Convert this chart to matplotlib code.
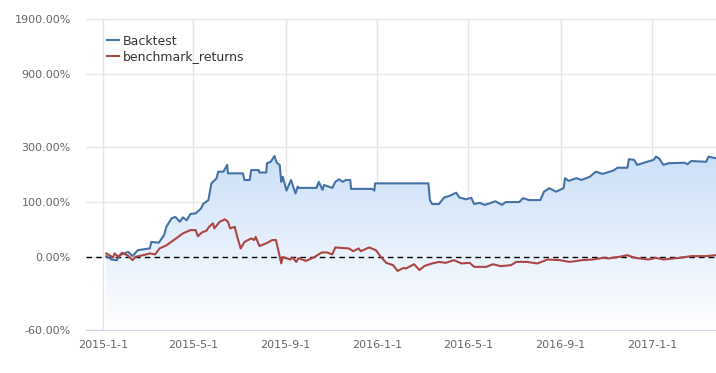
import numpy as np
import pandas as pd
import matplotlib
matplotlib.use('Agg')
import matplotlib.pyplot as plt
import matplotlib.dates as mdates
from matplotlib.ticker import FixedLocator, FixedFormatter, NullLocator

# strategy cumulative returns (%)
bt_dates = ['2015-01-05', '2015-01-12', '2015-01-19', '2015-01-23', '2015-02-03', '2015-02-09',
            '2015-02-16', '2015-03-04', '2015-03-06', '2015-03-16', '2015-03-23', '2015-03-26',
            '2015-04-02', '2015-04-07', '2015-04-13', '2015-04-17', '2015-04-22', '2015-04-27',
            '2015-05-04', '2015-05-11', '2015-05-14', '2015-05-21', '2015-05-25', '2015-06-01',
            '2015-06-03', '2015-06-10', '2015-06-15', '2015-06-16', '2015-07-06', '2015-07-08',
            '2015-07-15', '2015-07-17', '2015-07-27', '2015-07-28', '2015-08-06', '2015-08-07',
            '2015-08-12', '2015-08-17', '2015-08-20', '2015-08-24', '2015-08-26', '2015-08-28',
            '2015-09-02', '2015-09-08', '2015-09-14', '2015-09-17', '2015-09-18', '2015-10-12',
            '2015-10-15', '2015-10-20', '2015-10-22', '2015-11-02', '2015-11-06', '2015-11-11',
            '2015-11-16', '2015-11-20', '2015-11-26', '2015-11-27', '2015-12-25', '2015-12-28',
            '2015-12-29', '2016-03-09', '2016-03-11', '2016-03-14', '2016-03-23', '2016-03-30',
            '2016-04-06', '2016-04-15', '2016-04-19', '2016-04-28', '2016-05-05', '2016-05-09',
            '2016-05-16', '2016-05-23', '2016-05-30', '2016-06-06', '2016-06-15', '2016-06-20',
            '2016-07-08', '2016-07-13', '2016-07-21', '2016-08-05', '2016-08-10', '2016-08-17',
            '2016-08-26', '2016-09-05', '2016-09-07', '2016-09-12', '2016-09-22', '2016-09-29',
            '2016-10-10', '2016-10-18', '2016-10-27', '2016-11-10', '2016-11-16', '2016-11-29',
            '2016-12-01', '2016-12-08', '2016-12-12', '2016-12-21', '2017-01-03', '2017-01-06',
            '2017-01-10', '2017-01-16', '2017-01-23', '2017-02-13', '2017-02-17', '2017-02-22',
            '2017-03-14', '2017-03-17', '2017-03-27']
bt_returns = [1.3, -2.9, -3.7, 2.5, 6.9, 1.3,
              9.2, 11.6, 21, 20, 32, 46.5,
              63, 66, 56, 65, 59, 72,
              73.5, 84, 95, 105, 153, 170,
              193, 193, 219, 187, 187, 164,
              164, 199, 199, 190, 190, 226,
              232, 257, 228, 219, 158, 175,
              131, 164, 123, 143, 139, 139,
              158, 133, 148, 139, 158, 166,
              158, 164, 164, 136, 136, 131,
              153, 153, 105, 95, 95, 112,
              116, 125, 112, 107, 111, 95,
              98, 93, 97, 102, 93, 100,
              100, 110, 105, 105, 128, 138,
              128, 138, 170, 161, 170, 164,
              175, 193, 185, 197, 208, 208,
              243, 240, 219, 228, 240, 254,
              247, 219, 226, 228, 222, 235,
              232, 254, 247]

# benchmark cumulative returns (%)
bm_dates = ['2015-01-05', '2015-01-09', '2015-01-14', '2015-01-16', '2015-01-21', '2015-01-26',
            '2015-02-02', '2015-02-09', '2015-02-13', '2015-02-23', '2015-03-04', '2015-03-11',
            '2015-03-17', '2015-03-26', '2015-04-08', '2015-04-17', '2015-04-27', '2015-05-04',
            '2015-05-07', '2015-05-11', '2015-05-14', '2015-05-18', '2015-05-22', '2015-05-27',
            '2015-05-29', '2015-06-05', '2015-06-12', '2015-06-16', '2015-06-19', '2015-06-25',
            '2015-06-29', '2015-07-03', '2015-07-08', '2015-07-17', '2015-07-21', '2015-07-23',
            '2015-07-28', '2015-08-06', '2015-08-14', '2015-08-19', '2015-08-26', '2015-08-28',
            '2015-09-07', '2015-09-10', '2015-09-15', '2015-09-18', '2015-09-28', '2015-10-09',
            '2015-10-19', '2015-10-26', '2015-11-02', '2015-11-06', '2015-11-24', '2015-11-30',
            '2015-12-07', '2015-12-10', '2015-12-21', '2015-12-30', '2016-01-06', '2016-01-13',
            '2016-01-22', '2016-01-28', '2016-02-05', '2016-02-08', '2016-02-19', '2016-02-26',
            '2016-03-04', '2016-03-14', '2016-03-23', '2016-04-01', '2016-04-12', '2016-04-22',
            '2016-05-03', '2016-05-09', '2016-05-25', '2016-06-03', '2016-06-13', '2016-06-27',
            '2016-07-04', '2016-07-18', '2016-08-01', '2016-08-15', '2016-08-31', '2016-09-13',
            '2016-09-30', '2016-10-14', '2016-10-28', '2016-11-04', '2016-11-18', '2016-11-29',
            '2016-12-09', '2016-12-27', '2017-01-06', '2017-01-16', '2017-02-06', '2017-02-22',
            '2017-03-14', '2017-03-27']
bm_returns = [4.8, 2.5, -0.4, 4.8, 0.4, 5.6,
              2.5, -3.7, 0.4, 2.5, 4.8, 3.5,
              11.6, 16, 26.6, 34.8, 40.5, 40.5,
              30, 35, 37.5, 39, 46.5, 53,
              43.6, 56, 61, 56, 43.6, 46.5,
              26.6, 11.6, 21, 26.6, 24, 29,
              15, 19, 24, 24, -7.6, 0,
              -2.9, -0.4, -5.8, -1.3, -4.6, 0,
              6.1, 6.1, 3.5, 13, 11.6, 7.8,
              11.6, 7.8, 13, 9.2, 0, -6.9,
              -9.6, -15.9, -12.6, -13.3, -8.5, -15,
              -10.4, -7.6, -5.8, -6.9, -3.7, -7.6,
              -6.9, -11.5, -11.5, -8.5, -10.7, -9.6,
              -5.8, -5.8, -7.6, -2.9, -3.7, -5.8,
              -3.7, -2.9, -0.9, -1.6, 0.4, 2.5,
              -0.9, -2.9, -0.9, -2.9, -0.9, 1.3,
              1.3, 2.5]

y_ticks = [-60, 0, 100, 300, 900, 1900]
y_labels = ['-60.00%', '0.00%', '100.00%', '300.00%', '900.00%', '1900.00%']
x_ticks = ['2015-01-01', '2015-05-01', '2015-09-01', '2016-01-01', '2016-05-01', '2016-09-01', '2017-01-01']
x_labels = ['2015-1-1', '2015-5-1', '2015-9-1', '2016-1-1', '2016-5-1', '2016-9-1', '2017-1-1']

plt.rcParams['font.family'] = ['DejaVu Sans']

bt_x = pd.to_datetime(bt_dates)
bm_x = pd.to_datetime(bm_dates)
bt_y = 1 + np.array(bt_returns) / 100
bm_y = 1 + np.array(bm_returns) / 100
y_lo, y_hi = 1 + y_ticks[0] / 100, 1 + y_ticks[-1] / 100

fig = plt.figure(figsize=(7.16, 3.73), dpi=100)
ax = fig.add_axes([86 / 716, 43 / 373, 630 / 716, 311 / 373])
ax.set_yscale('log')
ax.set_ylim(y_lo, y_hi)
ax.set_xlim(pd.Timestamp('2014-12-09'), bt_x[-1])

# gradient fill under the backtest curve
poly = ax.fill_between(bt_x, bt_y, y_lo, facecolor='none', edgecolor='none')
top_frac = ax.transAxes.inverted().transform(ax.transData.transform((mdates.date2num(bt_x[0]), bt_y.max())))[1]
grad = np.linspace(0, 1, 256).reshape(-1, 1)
grad = np.clip(grad / top_frac, 0, 1)
c_top = np.array([0.80, 0.878, 0.97])
c_bot = np.array([1.0, 1.0, 1.0])
img = c_bot + (c_top - c_bot) * grad[..., None]
im = ax.imshow(img, extent=[0, 1, 0, 1], transform=ax.transAxes, origin='lower',
               aspect='auto', zorder=1)
im.set_clip_path(poly.get_paths()[0], transform=ax.transData)

ax.plot(bt_x, bt_y, color='#4572A7', lw=1.5, label='Backtest', zorder=3)
ax.plot(bm_x, bm_y, color='#AA4643', lw=1.5, label='benchmark_returns', zorder=3)
ax.axhline(1.0, color='black', lw=1, ls=(0, (4, 3)), zorder=2)

ax.yaxis.set_major_locator(FixedLocator([1 + t / 100 for t in y_ticks]))
ax.yaxis.set_major_formatter(FixedFormatter(y_labels))
ax.yaxis.set_minor_locator(NullLocator())
ax.set_xticks(pd.to_datetime(x_ticks))
ax.set_xticklabels(x_labels)
ax.grid(True, color='#e6e6e6', lw=1, zorder=0)
ax.set_axisbelow(True)
ax.tick_params(axis='both', length=0, labelsize=8, colors='#666666')
ax.tick_params(axis='y', pad=11)
ax.tick_params(axis='x', pad=7)
for s in ['top', 'right', 'left']:
    ax.spines[s].set_visible(False)
ax.spines['bottom'].set_color('#ccd6eb')

ax.legend(loc='upper left', bbox_to_anchor=(0.033, 0.95), frameon=False, fontsize=9,
          handlelength=1.0, handletextpad=0.3, labelspacing=0.2, borderpad=0,
          borderaxespad=0, labelcolor='#333333')

fig.savefig('out.png', dpi=100)
